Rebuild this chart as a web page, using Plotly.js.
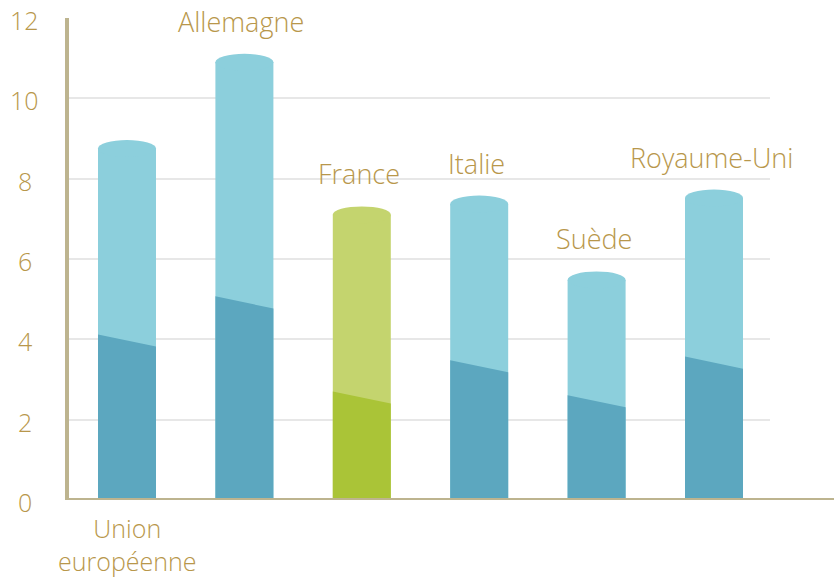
<!DOCTYPE html>
<html>
<head>
<meta charset="utf-8">
<script src="https://cdn.plot.ly/plotly-3.0.1.min.js"></script>
<style>html,body{margin:0;padding:0;background:#fff;}#chart{width:834px;height:577px;}</style>
</head>
<body>
<div id="chart"></div>
<script>
// ---- data ----
const categories = ['Union européenne', 'Allemagne', 'France', 'Italie', 'Suède', 'Royaume-Uni'];
const totalValues = [8.75, 10.9, 7.1, 7.37, 5.48, 7.52];   // full cylinder height
const darkValues  = [3.97, 4.92, 2.55, 3.33, 2.46, 3.42];  // lower (dark) segment
const highlight   = [false, false, true, false, false, false];
const yTickValues = [0, 2, 4, 6, 8, 10, 12];
const yTickLabels = ['0', '2', '4', '6', '8', '10', '12'];

// ---- style ----
const gold = '#b8974b';
const axisTan = '#bdb48f';
const light = {blue: '#8ccfdc', green: '#c4d46e'};
const dark  = {blue: '#5ca7bf', green: '#aac437'};
const barWidth = 0.494;
const slant = 0.15;   // half of the slant of the split line (data units)
const capH = 0.21;    // half height of the elliptical top (data units)
const font = '"Open Sans", Lato, sans-serif';

const xs = categories.map((_, i) => i);

const traces = [];
traces.push({
  type: 'bar', x: xs, y: totalValues, width: barWidth,
  marker: {color: highlight.map(h => h ? light.green : light.blue), line: {width: 0}},
  hoverinfo: 'skip', showlegend: false
});
['blue', 'green'].forEach(key => {
  const px = [], py = [];
  xs.forEach((x, i) => {
    if ((key === 'green') !== highlight[i]) return;
    const x0 = x - barWidth / 2, x1 = x + barWidth / 2;
    px.push(x0, x1, x1, x0, null);
    py.push(0, 0, darkValues[i] - slant, darkValues[i] + slant, null);
  });
  traces.push({
    type: 'scatter', mode: 'lines', x: px, y: py, fill: 'toself',
    fillcolor: dark[key], line: {width: 0, color: dark[key]},
    hoverinfo: 'skip', showlegend: false
  });
});

const shapes = [];
xs.forEach((x, i) => {
  shapes.push({
    type: 'circle', xref: 'x', yref: 'y', layer: 'above',
    x0: x - barWidth / 2, x1: x + barWidth / 2,
    y0: totalValues[i] - capH, y1: totalValues[i] + capH,
    fillcolor: highlight[i] ? light.green : light.blue, line: {width: 0}
  });
});
// x axis baseline extending to the right edge
shapes.push({type: 'line', xref: 'paper', yref: 'y', x0: 0, x1: 1.095, y0: 0, y1: 0,
  line: {color: axisTan, width: 4}, layer: 'above'});

const labelFont = {family: font, size: 27, color: gold, weight: 300};
const bottomFont = {family: font, size: 25, color: gold, weight: 300};
const tickFont = {family: font, size: 25, color: gold, weight: 300};
const annotations = [];
xs.forEach((x, i) => {
  if (i === 0) {
    annotations.push({x: x, y: 0, xref: 'x', yref: 'y', text: categories[i].replace(' ', '<br>'),
      showarrow: false, xanchor: 'center', yanchor: 'top', yshift: -10,
      font: bottomFont, borderpad: 0});
  } else {
    annotations.push({x: x, y: totalValues[i] + capH, xref: 'x', yref: 'y', text: categories[i],
      showarrow: false, xanchor: 'center', yanchor: 'bottom', yshift: 12, xshift: -3,
      font: labelFont});
  }
});
yTickValues.forEach((v, i) => {
  annotations.push({x: -0.063, y: v, xref: 'paper', yref: 'y', text: yTickLabels[i],
    showarrow: false, xanchor: 'center', yanchor: 'middle', yshift: -2,
    font: tickFont});
});

const layout = {
  width: 834, height: 577,
  margin: {l: 69, r: 64, t: 18, b: 77, pad: 0},
  paper_bgcolor: '#fff', plot_bgcolor: '#fff',
  showlegend: false, hovermode: false,
  xaxis: {range: [-0.494, 5.477], showgrid: false, zeroline: false, showticklabels: false,
    ticks: '', showline: false, fixedrange: true},
  yaxis: {range: [0, 12], tickvals: yTickValues, showticklabels: false, ticks: '',
    showgrid: true, gridcolor: '#e7e7e7', gridwidth: 2, zeroline: false,
    showline: true, linecolor: axisTan, linewidth: 4, fixedrange: true},
  shapes: shapes,
  annotations: annotations
};

Plotly.newPlot('chart', traces, layout, {displayModeBar: false, staticPlot: true});
</script>
</body>
</html>
